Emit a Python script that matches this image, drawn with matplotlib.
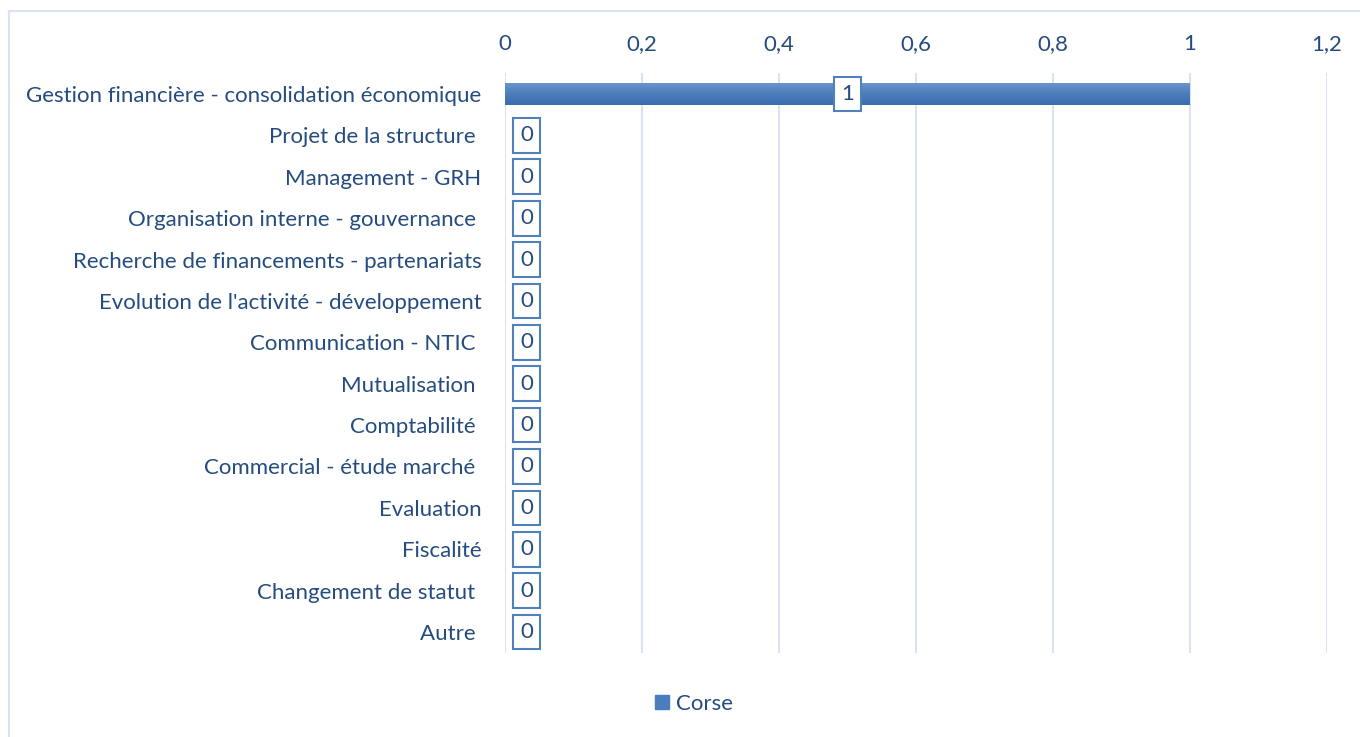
import numpy as np
import matplotlib.pyplot as plt
from matplotlib.patches import Rectangle
from matplotlib.lines import Line2D

plt.rcParams['font.family'] = ['Lato', 'DejaVu Sans']

categories = ["Gestion financière - consolidation économique",
              "Projet de la structure ",
              "Management - GRH",
              "Organisation interne - gouvernance ",
              "Recherche de financements - partenariats",
              "Evolution de l'activité - développement",
              "Communication - NTIC ",
              "Mutualisation ",
              "Comptabilité ",
              "Commercial - étude marché ",
              "Evaluation",
              "Fiscalité",
              "Changement de statut ",
              "Autre "]
corse = [1, 0, 0, 0, 0, 0, 0, 0, 0, 0, 0, 0, 0, 0]
xticks = [0, 0.2, 0.4, 0.6, 0.8, 1, 1.2]
xtick_labels = ["0", "0,2", "0,4", "0,6", "0,8", "1", "1,2"]

text_col = '#254C7F'
bar_col = '#4A7EBB'
grid_col = '#D9E3F1'
fs = 16

fig = plt.figure(figsize=(13.6, 7.37), dpi=100)
ax = fig.add_axes([0.3713, 0.1144, 0.6044, 0.7861])

y = np.arange(len(categories))
bars = ax.barh(y, corse, height=0.53, color=bar_col, zorder=2)

# soft vertical gradient on the bars like the original
grad = np.linspace(0, 1, 100).reshape(-1, 1)
for b in bars:
    if b.get_width() == 0:
        continue
    x0, y0 = b.get_x(), b.get_y()
    w, h = b.get_width(), b.get_height()
    im = ax.imshow(grad, cmap=plt.matplotlib.colors.LinearSegmentedColormap.from_list(
        'g', ['#6B93CA', '#4A7EBB', '#3A6CAE']), aspect='auto',
        extent=[x0, x0 + w, y0 + h, y0], zorder=3, interpolation='bilinear')
    im.set_clip_path(b)

ax.set_xlim(0, 1.2)
ax.set_ylim(len(categories) - 0.5, -0.5)
ax.set_xticks(xticks)
ax.set_xticklabels(xtick_labels)
ax.set_yticks(y)
ax.set_yticklabels(categories)
ax.xaxis.tick_top()
ax.tick_params(axis='x', length=0, pad=14, labelsize=fs, labelcolor=text_col)
ax.tick_params(axis='y', length=0, pad=17, labelsize=fs, labelcolor=text_col)
for s in ax.spines.values():
    s.set_visible(False)
ax.grid(axis='x', color=grid_col, lw=1.5, zorder=0)
ax.set_axisbelow(True)

# data labels in boxes
box = dict(boxstyle='square,pad=0.33', fc='white', ec='#4F81BD', lw=1.5)
for yi, v in zip(y, corse):
    if v > 0:
        ax.annotate(str(v), (v / 2, yi), ha='center', va='center', fontsize=fs,
                    color=text_col, bbox=box, zorder=5)
    else:
        ax.annotate(str(v), (v, yi), xytext=(15.5, 0), textcoords='offset points',
                    ha='center', va='center', fontsize=fs, color=text_col,
                    bbox=box, zorder=5)

leg = fig.legend([Rectangle((0, 0), 1, 1, color=bar_col)], ["Corse"],
                 loc='center', bbox_to_anchor=(0.51, 0.045), frameon=False,
                 fontsize=fs, handlelength=0.65, handleheight=0.65, handletextpad=0.3)
for t in leg.get_texts():
    t.set_color(text_col)

# chart area border (left and top edges visible)
fig.add_artist(Line2D([9 / 1360, 9 / 1360], [0, 1 - 11 / 737], color=grid_col, lw=1.5))
fig.add_artist(Line2D([9 / 1360, 1], [1 - 11 / 737, 1 - 11 / 737], color=grid_col, lw=1.5))

fig.savefig('out.png', dpi=100)
